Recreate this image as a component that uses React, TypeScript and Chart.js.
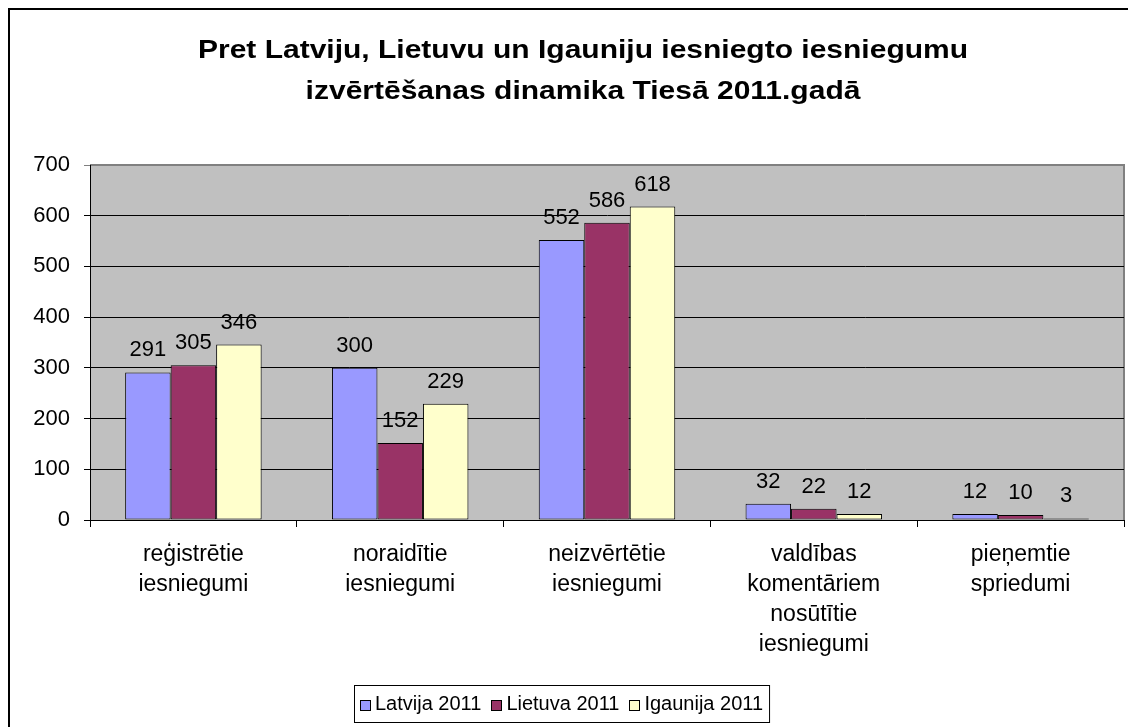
import React, { useEffect, useRef } from "react";
import { Chart, registerables } from "chart.js";

Chart.register(...registerables);

const titleLines = [
  "Pret Latviju, Lietuvu un Igauniju iesniegto iesniegumu",
  "izvērtēšanas dinamika Tiesā 2011.gadā",
];
const categories = [
  ["reģistrētie", "iesniegumi"],
  ["noraidītie", "iesniegumi"],
  ["neizvērtētie", "iesniegumi"],
  ["valdības", "komentāriem", "nosūtītie", "iesniegumi"],
  ["pieņemtie", "spriedumi"],
];
const seriesNames = ["Latvija 2011", "Lietuva 2011", "Igaunija 2011"];
const latvija = [291, 300, 552, 32, 12];
const lietuva = [305, 152, 586, 22, 10];
const igaunija = [346, 229, 618, 12, 3];
const yMin = 0;
const yMax = 700;
const yStep = 100;
const seriesColors = ["#9999FF", "#993366", "#FFFFCC"];

const FONT = "'Liberation Sans', Arial, sans-serif";

const decorPlugin = {
  id: "decor",
  beforeDraw(chart: any) {
    const { ctx, chartArea: a } = chart;
    ctx.save();
    ctx.fillStyle = "#ffffff";
    ctx.fillRect(0, 0, chart.width, chart.height);
    // outer chart border (left and top visible)
    ctx.fillStyle = "#000000";
    ctx.fillRect(8, 8, 2, chart.height);
    ctx.fillRect(8, 8, chart.width, 2);
    // plot area
    ctx.fillStyle = "#C0C0C0";
    ctx.fillRect(a.left, a.top, a.right - a.left, a.bottom - a.top);
    ctx.strokeStyle = "#808080";
    ctx.lineWidth = 2;
    ctx.beginPath();
    ctx.moveTo(a.left, a.top);
    ctx.lineTo(a.right, a.top);
    ctx.lineTo(a.right, a.bottom);
    ctx.stroke();
    // title (slightly widened glyphs, as in the original)
    ctx.fillStyle = "#000000";
    ctx.font = `bold 25px ${FONT}`;
    ctx.textAlign = "center";
    ctx.textBaseline = "alphabetic";
    ctx.translate(583, 0);
    ctx.scale(1.2, 1);
    ctx.fillText(titleLines[0], 0, 58);
    ctx.fillText(titleLines[1], 0, 99);
    ctx.restore();
  },
  afterDatasetsDraw(chart: any) {
    const { ctx } = chart;
    ctx.save();
    ctx.font = `22px ${FONT}`;
    ctx.fillStyle = "#000000";
    ctx.textAlign = "center";
    ctx.textBaseline = "alphabetic";
    chart.data.datasets.forEach((ds: any, i: number) => {
      const meta = chart.getDatasetMeta(i);
      meta.data.forEach((el: any, j: number) => {
        ctx.fillText(String(ds.data[j]), el.x, el.y - 16);
      });
    });
    ctx.restore();
  },
  afterDraw(chart: any) {
    const { ctx } = chart;
    ctx.save();
    ctx.font = `20px ${FONT}`;
    const sq = 10;
    const gapSq = 5;
    const gapItem = 10;
    const pad = 6;
    const widths = seriesNames.map((n) => ctx.measureText(n).width);
    const content =
      widths.reduce((s, w) => s + w + sq + gapSq, 0) + gapItem * (seriesNames.length - 1);
    const boxW = content + pad * 2;
    const boxH = 37;
    const cx = 561.5;
    const boxX = Math.round(cx - boxW / 2);
    const boxY = 685;
    ctx.fillStyle = "#ffffff";
    ctx.fillRect(boxX, boxY, boxW, boxH);
    ctx.strokeStyle = "#000000";
    ctx.lineWidth = 1;
    ctx.strokeRect(boxX + 0.5, boxY + 0.5, boxW, boxH);
    let x = boxX + pad;
    const midY = boxY + boxH / 2 + 1;
    seriesNames.forEach((n, i) => {
      ctx.fillStyle = seriesColors[i];
      ctx.fillRect(Math.round(x) + 0.5, Math.round(midY - sq / 2) + 0.5, sq, sq);
      ctx.strokeStyle = "#000000";
      ctx.strokeRect(Math.round(x) + 0.5, Math.round(midY - sq / 2) + 0.5, sq, sq);
      x += sq + gapSq;
      ctx.fillStyle = "#000000";
      ctx.textAlign = "left";
      ctx.textBaseline = "middle";
      ctx.fillText(n, x, midY);
      x += widths[i] + gapItem;
    });
    ctx.restore();
  },
};

export default function App() {
  const ref = useRef<HTMLCanvasElement | null>(null);
  useEffect(() => {
    if (!ref.current) return;
    const values = [latvija, lietuva, igaunija];
    const chart = new Chart(ref.current, {
      type: "bar",
      data: {
        labels: categories,
        datasets: seriesNames.map((name, i) => ({
          label: name,
          data: values[i],
          backgroundColor: seriesColors[i],
          borderColor: "#000000",
          borderWidth: 1,
          borderSkipped: false,
          categoryPercentage: 0.66,
          barPercentage: 1.0,
        })),
      },
      options: {
        responsive: false,
        animation: false,
        layout: { padding: { top: 165, left: 0, right: 4, bottom: 0 } },
        plugins: {
          legend: { display: false },
          title: { display: false },
          tooltip: { enabled: false },
        },
        scales: {
          x: {
            afterFit(scale: any) {
              scale.height = 207;
            },
            grid: {
              display: true,
              drawOnChartArea: false,
              drawTicks: true,
              tickLength: 7,
              color: "#000000",
              offset: true,
            },
            border: { display: true, color: "#000000", width: 1 },
            ticks: {
              color: "#000000",
              font: { family: FONT, size: 23, lineHeight: 1.3 },
              padding: 13,
              maxRotation: 0,
              autoSkip: false,
            },
          },
          y: {
            min: yMin,
            max: yMax,
            afterFit(scale: any) {
              scale.width = 90;
            },
            grid: {
              color: (c: any) => (c.tick && c.tick.value === yMax ? "#808080" : "#000000"),
              lineWidth: 1,
              drawTicks: true,
              tickLength: 6,
            },
            border: { display: true, color: "#000000", width: 1 },
            ticks: {
              stepSize: yStep,
              color: "#000000",
              font: { family: FONT, size: 22 },
              padding: 14,
            },
          },
        },
      },
      plugins: [decorPlugin],
    });
    return () => chart.destroy();
  }, []);
  return (
    <div style={{ position: "fixed", left: 0, top: 0, width: 1128, height: 727 }}>
      <canvas ref={ref} width={1128} height={727} style={{ display: "block" }} />
    </div>
  );
}
